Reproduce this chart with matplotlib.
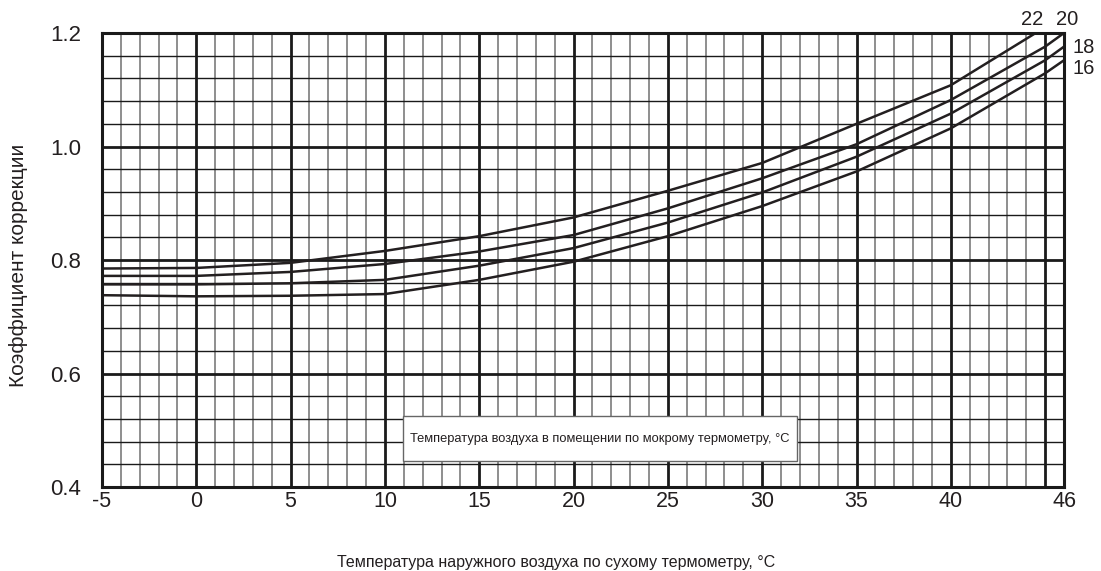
import numpy as np
import matplotlib
matplotlib.use("Agg")
import matplotlib.pyplot as plt
from matplotlib.ticker import FixedLocator

plt.rcParams['font.family'] = ['Liberation Sans', 'DejaVu Sans']

# Data
x_22 = [-5, 0, 5, 10, 15, 20, 25, 30, 35, 40, 44.5]
y_22 = [0.785, 0.786, 0.795, 0.816, 0.842, 0.875, 0.922, 0.971, 1.040, 1.108, 1.200]

x_20 = [-5, 0, 5, 10, 15, 20, 25, 30, 35, 40, 45, 46]
y_20 = [0.772, 0.772, 0.779, 0.793, 0.815, 0.844, 0.891, 0.944, 1.004, 1.082, 1.176, 1.200]

x_18 = [-5, 0, 5, 10, 15, 20, 25, 30, 35, 40, 45, 46]
y_18 = [0.757, 0.757, 0.759, 0.765, 0.790, 0.821, 0.866, 0.919, 0.982, 1.058, 1.152, 1.176]

x_16 = [-5, 0, 5, 10, 15, 20, 25, 30, 35, 40, 45, 46]
y_16 = [0.738, 0.736, 0.737, 0.740, 0.765, 0.797, 0.842, 0.895, 0.956, 1.032, 1.129, 1.152]

series_labels = ["22", "20", "18", "16"]
x_ticks = [-5, 0, 5, 10, 15, 20, 25, 30, 35, 40, 46]
x_tick_labels = ["-5", "0", "5", "10", "15", "20", "25", "30", "35", "40", "46"]
y_ticks = [0.4, 0.6, 0.8, 1.0, 1.2]
y_tick_labels = ["0.4", "0.6", "0.8", "1.0", "1.2"]

xlabel = "Температура наружного воздуха по сухому термометру, °C"
ylabel = "Коэффициент коррекции"
box_text = "Температура воздуха в помещении по мокрому термометру, °C"

fig = plt.figure(figsize=(11.01, 5.71), dpi=100)
ax = fig.add_axes([0.0926, 0.1471, 0.9664 - 0.0926, 0.9422 - 0.1471])
ax.set_xlim(-5, 46)
ax.set_ylim(0.4, 1.2)

# grid
for xv in np.arange(-4, 46, 1):
    major = (xv % 5 == 0)
    ax.axvline(xv, color='#1a1a1a' if major else '#707070',
               lw=2.0 if major else 1.1, zorder=1)
for yv in np.arange(0.44, 1.2, 0.04):
    major = abs(yv / 0.2 - round(yv / 0.2)) < 1e-6
    ax.axhline(yv, color='#1a1a1a', lw=2.0 if major else 1.0, zorder=1)

for xs, ys in [(x_22, y_22), (x_20, y_20), (x_18, y_18), (x_16, y_16)]:
    ax.plot(xs, ys, color='#231f20', lw=1.8, zorder=3, solid_capstyle='butt')

for sp in ax.spines.values():
    sp.set_linewidth(2.2)
    sp.set_color('#1a1a1a')
    sp.set_zorder(4)

ax.xaxis.set_major_locator(FixedLocator(x_ticks))
ax.set_xticklabels(x_tick_labels)
ax.yaxis.set_major_locator(FixedLocator(y_ticks))
ax.set_yticklabels(y_tick_labels)
ax.tick_params(axis='both', length=0, colors='#231f20')
ax.tick_params(axis='x', pad=3, labelsize=15.5)
ax.tick_params(axis='y', pad=15, labelsize=16)

# curve labels
lab_kw = dict(fontsize=14.5, color='#231f20', clip_on=False)
ax.text(44.3, 1.223, series_labels[0], ha='center', va='center', **lab_kw)
ax.text(46.16, 1.223, series_labels[1], ha='center', va='center', **lab_kw)
ax.text(46.45, 1.175, series_labels[2], ha='left', va='center', **lab_kw)
ax.text(46.45, 1.138, series_labels[3], ha='left', va='center', **lab_kw)

# label box
fig.text((403 + 797) / 2 / 1101, 1 - 439 / 571, box_text, ha='center', va='center',
         fontsize=9.3, color='#231f20', zorder=10)
rect = plt.Rectangle((403 / 1101, 1 - 461 / 571), (797 - 403) / 1101, 45 / 571,
                     transform=fig.transFigure, facecolor='white', edgecolor='#666666',
                     lw=1.0, zorder=9)
fig.patches.append(rect)

fig.text(556 / 1101, 1 - 562 / 571, xlabel, ha='center', va='center', fontsize=11.5,
         color='#231f20')
fig.text(19 / 1101, 1 - 265 / 571, ylabel, ha='center', va='center', fontsize=15,
         rotation=90, color='#231f20')

fig.savefig('out.png', dpi=100)
